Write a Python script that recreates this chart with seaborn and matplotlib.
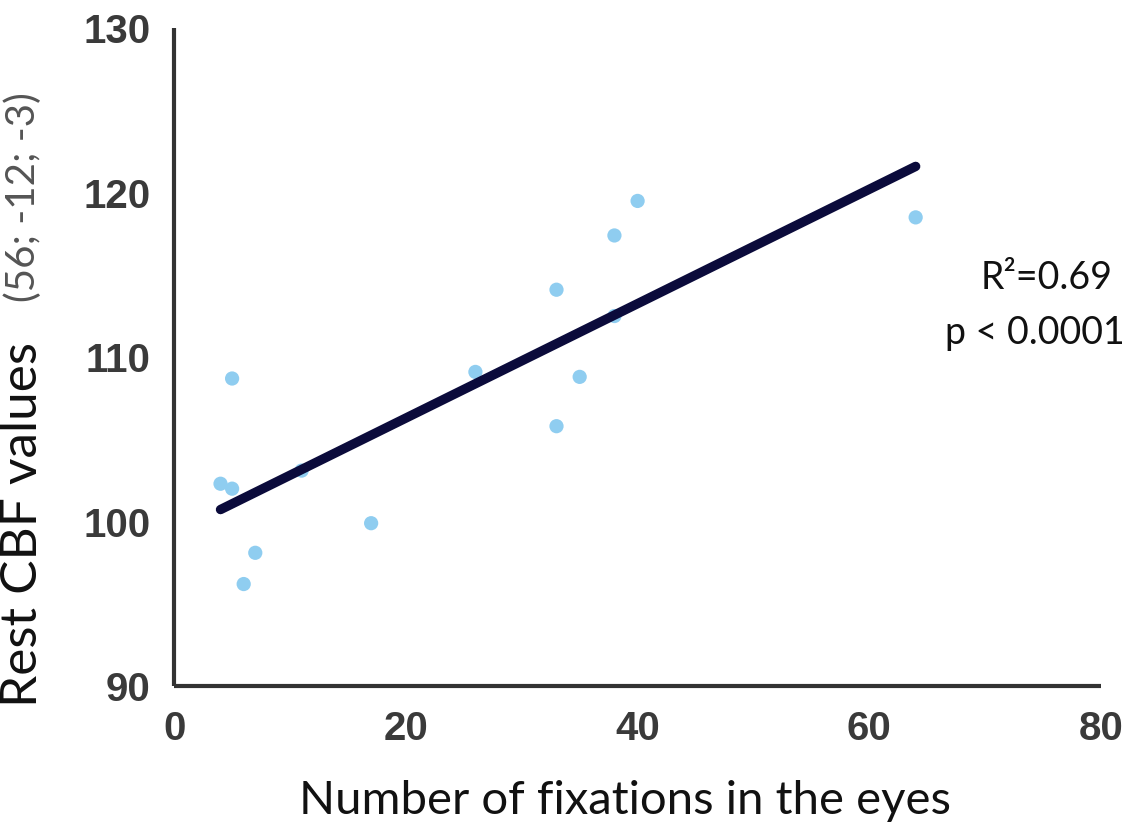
import numpy as np
import pandas as pd
import matplotlib
matplotlib.use('Agg')
import matplotlib.pyplot as plt
import seaborn as sns

# data
fixations = [4, 5, 5, 6, 7, 11, 17, 26, 33, 33, 35, 38, 38, 40, 64]
cbf = [102.3, 102.0, 108.7, 96.2, 98.1, 103.1, 99.9, 109.1, 114.1, 105.8, 108.8, 117.4, 112.5, 119.5, 118.5]
xticks = [0, 20, 40, 60, 80]
yticks = [90, 100, 110, 120, 130]

df = pd.DataFrame({'fix': fixations, 'cbf': cbf})

sns.set_style('white')
plt.rcParams['font.family'] = ['Liberation Sans', 'DejaVu Sans']

fig = plt.figure(figsize=(11.31, 8.32), dpi=100)
ax = fig.add_axes([0.154, 0.1755, 0.8195, 0.7905])

sns.regplot(data=df, x='fix', y='cbf', ax=ax, ci=None, truncate=True,
            scatter_kws={'s': 105, 'color': '#8fcdf0', 'edgecolor': 'none', 'alpha': 1, 'zorder': 2},
            line_kws={'color': '#0b0b3b', 'linewidth': 6.8, 'solid_capstyle': 'round', 'zorder': 3})

ax.set_xlim(0, 80)
ax.set_ylim(90, 130)
ax.set_xticks(xticks)
ax.set_yticks(yticks)
ax.set_xlabel('')
ax.set_ylabel('')

for s in ['top', 'right']:
    ax.spines[s].set_visible(False)
for s in ['left', 'bottom']:
    ax.spines[s].set_color('#333333')
    ax.spines[s].set_linewidth(3)
    ax.spines[s].set_capstyle('butt')
ax.tick_params(axis='both', which='major', direction='out', length=11, width=3,
               color='#333333', labelcolor='#3a3a3a', labelsize=29, pad=6)
for lab in ax.get_xticklabels() + ax.get_yticklabels():
    lab.set_fontweight('bold')

lab_font = ['Lato', 'DejaVu Sans']
fig.text(0.553, 0.012, 'Number of fixations in the eyes', ha='center', va='bottom',
         fontsize=34, family=lab_font, color='#111111')
fig.text(0.0, 1 - 707 / 832, 'Rest CBF values', rotation=90, ha='left', va='bottom',
         fontsize=37, family=lab_font, color='#111111')
fig.text(0.004, 1 - 302 / 832, '(56; -12; -3)', rotation=90, ha='left', va='bottom',
         fontsize=29, family=lab_font, color='#555555')

fig.text(0.925, 1 - 278 / 832, 'R²=0.69', ha='center', va='center',
         fontsize=27, family=lab_font, color='#111111')
fig.text(0.915, 1 - 333 / 832, 'p < 0.0001', ha='center', va='center',
         fontsize=27, family=lab_font, color='#111111')

fig.savefig('out.png', dpi=100)
